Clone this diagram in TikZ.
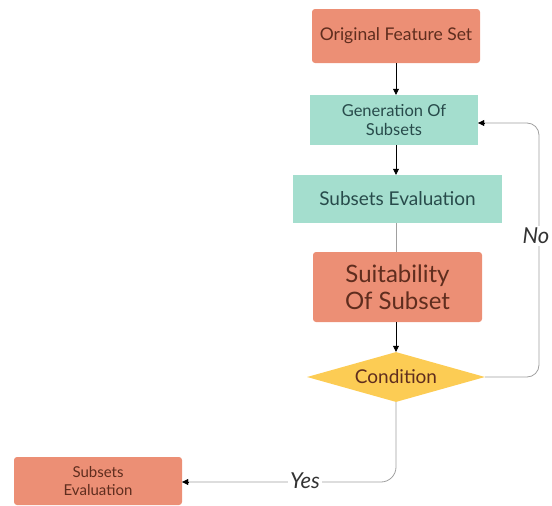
\documentclass[tikz,border=0pt]{standalone}
\usepackage{fontspec}
\setmainfont{Lato}
\usetikzlibrary{shapes.geometric,arrows.meta,positioning}
\definecolor{salmon}{RGB}{236,143,117}
\definecolor{mint}{RGB}{164,222,206}
\definecolor{gold}{RGB}{252,204,84}
\definecolor{brownt}{RGB}{95,45,30}
\definecolor{tealt}{RGB}{40,75,75}
\definecolor{linec}{RGB}{160,160,160}
\tikzset{
  obox/.style={fill=salmon, draw=none, rounded corners=3pt, text=brownt, align=center, inner sep=0pt},
  tbox/.style={fill=mint, draw=none, text=tealt, align=center, inner sep=0pt},
  cond/.style={diamond, fill=gold, draw=none, aspect=3.5, inner sep=0pt, text=brownt},
  conn/.style={draw=linec, line width=0.8pt},
  blk/.style={draw=black, line width=0.7pt, -{Triangle[length=6pt,width=6pt]}},
  lbl/.style={fill=white, font=\itshape\fontsize{22}{26}\selectfont, text=black!80, inner sep=2pt}
}
\begin{document}
\begin{tikzpicture}[x=1pt,y=-1pt]
\useasboundingbox (0,0) rectangle (552,506);
\node[obox, minimum width=168pt, minimum height=54pt, font=\fontsize{17.5}{20}\selectfont] (orig) at (396,36) {Original Feature Set};
\node[tbox, minimum width=168pt, minimum height=50pt, font=\fontsize{16.5}{19}\selectfont] (gen) at (394,120) {Generation Of\\Subsets};
\node[tbox, minimum width=209pt, minimum height=48pt, font=\fontsize{19}{22}\selectfont] (eval) at (397.5,199) {Subsets Evaluation};
\node[obox, minimum width=169pt, minimum height=70pt, font=\fontsize{24}{27}\selectfont] (suit) at (397.5,287) {Suitability\\Of Subset};
\node[cond, minimum width=178pt, minimum height=50pt, font=\fontsize{19}{22}\selectfont] (cond) at (396,377) {Condition};
\node[obox, minimum width=168pt, minimum height=48pt, font=\fontsize{15}{18}\selectfont] (out) at (98,481) {Subsets\\Evaluation};
\coordinate (c1) at (539,377);
\coordinate (c2) at (539,123);
\coordinate (c3) at (396,482);
\coordinate (ax) at (396,0);
\draw[blk] (orig.south -| ax) -- (gen.north -| ax);
\draw[blk] (gen.south -| ax) -- (eval.north -| ax);
\draw[conn] (eval.south -| ax) -- (suit.north -| ax);
\draw[blk] (suit.south -| ax) -- (cond.north);
\draw[conn, rounded corners=12pt] (cond.east) -- (c1) -- (c2) -- (gen.east |- c2);
\draw[draw=black, -{Triangle[length=6pt,width=6pt]}] ([xshift=6pt]gen.east |- c2) -- (gen.east |- c2);
\node[lbl] (no) at (536,236) {No};
\draw[conn, rounded corners=15pt] (cond.south) -- (c3) -- (out.east |- c3);
\draw[draw=black, -{Triangle[length=6pt,width=6pt]}] ([xshift=6pt]out.east |- c3) -- (out.east |- c3);
\node[lbl] (yes) at (305,481) {Yes};
\end{tikzpicture}
\end{document}
